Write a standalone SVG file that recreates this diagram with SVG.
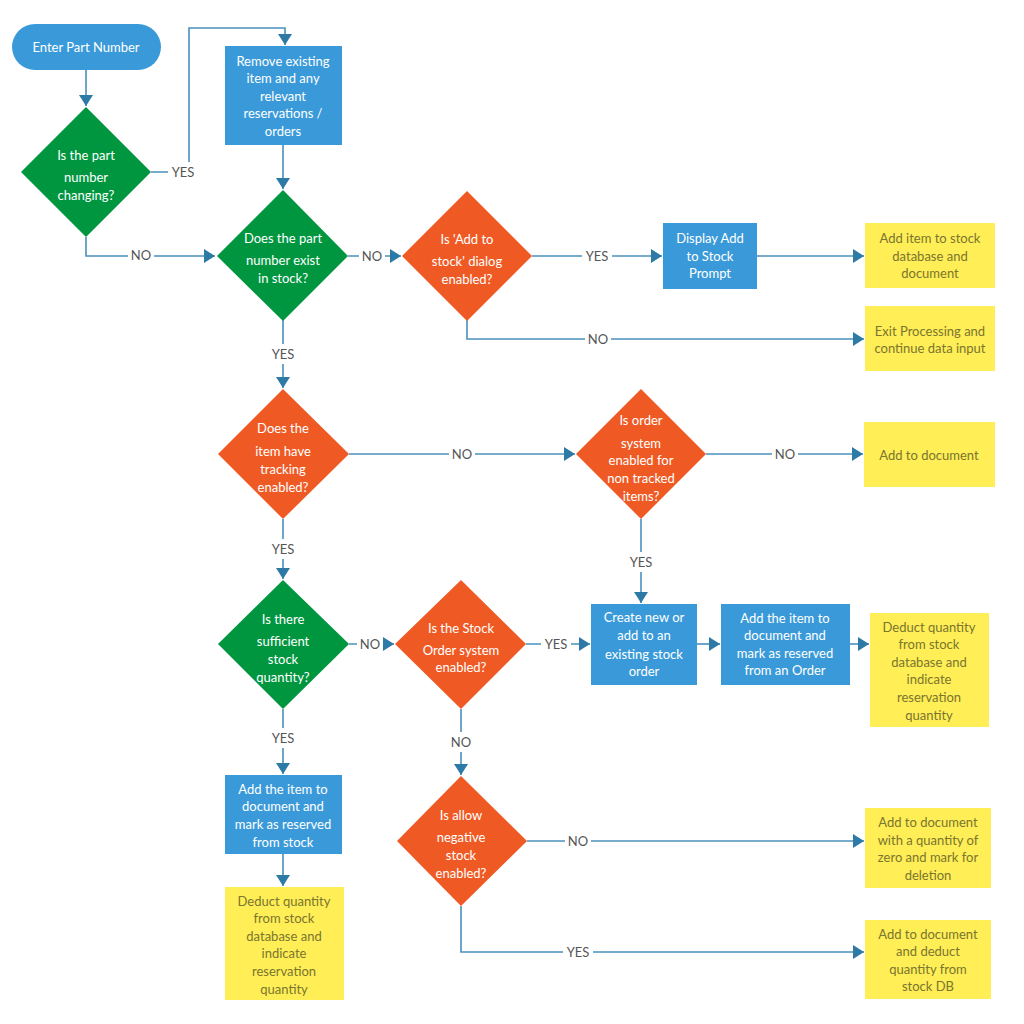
<svg xmlns="http://www.w3.org/2000/svg" width="1024" height="1024" viewBox="0 0 1024 1024">
<defs>
<style>
.blue{fill:#3A9AD9;}
.green{fill:#00963F;}
.orange{fill:#EF5A24;}
.yellow{fill:#FFEE55;}
.t{font-family:Lato,"Liberation Sans",sans-serif;font-size:13px;text-anchor:middle;}
.w{fill:#ffffff;}
.y{fill:#7A7530;}
.lbl{font-family:Lato,"Liberation Sans",sans-serif;font-size:13px;text-anchor:middle;fill:#555555;}
.c{fill:none;stroke:#4A90BE;stroke-width:1.6;}
.bg{fill:#ffffff;}
</style>
<marker id="ah" markerUnits="userSpaceOnUse" markerWidth="12" markerHeight="14" viewBox="0 0 12 14" refX="11" refY="7" orient="auto">
<path d="M0,0 L11,7 L0,14 Z" fill="#2E7AA6"/>
</marker>
</defs>
<rect width="1024" height="1024" fill="#ffffff"/>

<g id="connectors">
<path class="c" d="M86,70 V106" marker-end="url(#ah)"/>
<path class="c" d="M151,172 H189 V28 H285 V45" marker-end="url(#ah)"/>
<path class="c" d="M283,145 V189" marker-end="url(#ah)"/>
<path class="c" d="M86,237 V256 H215" marker-end="url(#ah)"/>
<path class="c" d="M348,256 H401" marker-end="url(#ah)"/>
<path class="c" d="M532,256 H662" marker-end="url(#ah)"/>
<path class="c" d="M757,256 H864" marker-end="url(#ah)"/>
<path class="c" d="M467,320 V339 H864" marker-end="url(#ah)"/>
<path class="c" d="M283,320 V388" marker-end="url(#ah)"/>
<path class="c" d="M349,454 H575" marker-end="url(#ah)"/>
<path class="c" d="M706,454 H863" marker-end="url(#ah)"/>
<path class="c" d="M641,519 V603" marker-end="url(#ah)"/>
<path class="c" d="M283,519 V579" marker-end="url(#ah)"/>
<path class="c" d="M349,644 H394" marker-end="url(#ah)"/>
<path class="c" d="M526,644 H590" marker-end="url(#ah)"/>
<path class="c" d="M697,644 H720" marker-end="url(#ah)"/>
<path class="c" d="M850,644 H869" marker-end="url(#ah)"/>
<path class="c" d="M283,709 V774" marker-end="url(#ah)"/>
<path class="c" d="M283,854 V886" marker-end="url(#ah)"/>
<path class="c" d="M461,709 V775" marker-end="url(#ah)"/>
<path class="c" d="M527,841 H864" marker-end="url(#ah)"/>
<path class="c" d="M461,906 V952 H864" marker-end="url(#ah)"/>

<rect class="bg" x="168" y="162" width="30" height="20"/><text class="lbl" x="183" y="177">YES</text>
<rect class="bg" x="128" y="246" width="26" height="20"/><text class="lbl" x="141" y="260">NO</text>
<rect class="bg" x="359" y="246" width="26" height="20"/><text class="lbl" x="372" y="261">NO</text>
<rect class="bg" x="582" y="246" width="30" height="20"/><text class="lbl" x="597" y="261">YES</text>
<rect class="bg" x="585" y="329" width="26" height="20"/><text class="lbl" x="598" y="344">NO</text>
<rect class="bg" x="268" y="344" width="30" height="20"/><text class="lbl" x="283" y="359">YES</text>
<rect class="bg" x="449" y="444" width="26" height="20"/><text class="lbl" x="462" y="459">NO</text>
<rect class="bg" x="772" y="444" width="26" height="20"/><text class="lbl" x="785" y="459">NO</text>
<rect class="bg" x="626" y="552" width="30" height="20"/><text class="lbl" x="641" y="567">YES</text>
<rect class="bg" x="268" y="539" width="30" height="20"/><text class="lbl" x="283" y="554">YES</text>
<rect class="bg" x="357" y="634" width="26" height="20"/><text class="lbl" x="370" y="649">NO</text>
<rect class="bg" x="541" y="634" width="30" height="20"/><text class="lbl" x="556" y="649">YES</text>
<rect class="bg" x="268" y="728" width="30" height="20"/><text class="lbl" x="283" y="743">YES</text>
<rect class="bg" x="448" y="732" width="26" height="20"/><text class="lbl" x="461" y="747">NO</text>
<rect class="bg" x="565" y="831" width="26" height="20"/><text class="lbl" x="578" y="846">NO</text>
<rect class="bg" x="563" y="942" width="30" height="20"/><text class="lbl" x="578" y="957">YES</text>
</g>

<g id="start">
<rect class="blue" x="12" y="24" width="149" height="46" rx="23"/>
<text class="t w" x="86" y="52">Enter Part Number</text>
</g>

<g id="q-part-changing">
<path class="green" d="M86,107 L151,172 L86,237 L21,172 Z"/>
<text class="t w" x="86" y="160">Is the part</text>
<text class="t w" x="86" y="182">number</text>
<text class="t w" x="86" y="200">changing?</text>
</g>

<g id="remove-existing">
<rect class="blue" x="225" y="46" width="117" height="99"/>
<text class="t w" x="283" y="66">Remove existing</text>
<text class="t w" x="283" y="83">item and any</text>
<text class="t w" x="283" y="101">relevant</text>
<text class="t w" x="283" y="118">reservations /</text>
<text class="t w" x="283" y="136">orders</text>
</g>

<g id="q-part-exists">
<path class="green" d="M283,190 L348,256 L283,321 L217,256 Z"/>
<text class="t w" x="283" y="243">Does the part</text>
<text class="t w" x="283" y="265">number exist</text>
<text class="t w" x="283" y="283">in stock?</text>
</g>

<g id="q-add-dialog">
<path class="orange" d="M467,191 L532,256 L467,321 L402,256 Z"/>
<text class="t w" x="467" y="244">Is 'Add to</text>
<text class="t w" x="467" y="266">stock' dialog</text>
<text class="t w" x="467" y="284">enabled?</text>
</g>

<g id="display-prompt">
<rect class="blue" x="663" y="223" width="94" height="66"/>
<text class="t w" x="710" y="243">Display Add</text>
<text class="t w" x="710" y="261">to Stock</text>
<text class="t w" x="710" y="278">Prompt</text>
</g>

<g id="add-item-stock">
<rect class="yellow" x="865" y="223" width="130" height="65"/>
<text class="t y" x="930" y="243">Add item to stock</text>
<text class="t y" x="930" y="261">database and</text>
<text class="t y" x="930" y="278">document</text>
</g>

<g id="exit-processing">
<rect class="yellow" x="865" y="306" width="130" height="65"/>
<text class="t y" x="930" y="336">Exit Processing and</text>
<text class="t y" x="930" y="353">continue data input</text>
</g>

<g id="q-tracking">
<path class="orange" d="M283,389 L349,454 L283,519 L218,454 Z"/>
<text class="t w" x="283" y="433">Does the</text>
<text class="t w" x="283" y="456">item have</text>
<text class="t w" x="283" y="474">tracking</text>
<text class="t w" x="283" y="492">enabled?</text>
</g>

<g id="q-order-nontracked">
<path class="orange" d="M641,389 L706,454 L641,519 L576,454 Z"/>
<text class="t w" x="641" y="425">Is order</text>
<text class="t w" x="641" y="448">system</text>
<text class="t w" x="641" y="465">enabled for</text>
<text class="t w" x="641" y="483">non tracked</text>
<text class="t w" x="641" y="501">items?</text>
</g>

<g id="add-to-document">
<rect class="yellow" x="864" y="422" width="131" height="65"/>
<text class="t y" x="929" y="460">Add to document</text>
</g>

<g id="q-sufficient">
<path class="green" d="M283,580 L349,644 L283,709 L218,644 Z"/>
<text class="t w" x="283" y="624">Is there</text>
<text class="t w" x="283" y="646">sufficient</text>
<text class="t w" x="283" y="664">stock</text>
<text class="t w" x="283" y="682">quantity?</text>
</g>

<g id="q-stock-order">
<path class="orange" d="M461,580 L526,644 L461,709 L395,644 Z"/>
<text class="t w" x="461" y="633">Is the Stock</text>
<text class="t w" x="461" y="655">Order system</text>
<text class="t w" x="461" y="672">enabled?</text>
</g>

<g id="create-order">
<rect class="blue" x="591" y="604" width="106" height="81"/>
<text class="t w" x="644" y="622">Create new or</text>
<text class="t w" x="644" y="640">add to an</text>
<text class="t w" x="644" y="659">existing stock</text>
<text class="t w" x="644" y="676">order</text>
</g>

<g id="reserve-order">
<rect class="blue" x="721" y="604" width="129" height="81"/>
<text class="t w" x="785" y="623">Add the item to</text>
<text class="t w" x="785" y="640">document and</text>
<text class="t w" x="785" y="658">mark as reserved</text>
<text class="t w" x="785" y="675">from an Order</text>
</g>

<g id="deduct-right">
<rect class="yellow" x="870" y="613" width="119" height="114"/>
<text class="t y" x="929" y="632">Deduct quantity</text>
<text class="t y" x="929" y="649">from stock</text>
<text class="t y" x="929" y="667">database  and</text>
<text class="t y" x="929" y="684">indicate</text>
<text class="t y" x="929" y="702">reservation</text>
<text class="t y" x="929" y="720">quantity</text>
</g>

<g id="reserve-stock">
<rect class="blue" x="225" y="775" width="117" height="79"/>
<text class="t w" x="283" y="794">Add the item to</text>
<text class="t w" x="283" y="811">document and</text>
<text class="t w" x="283" y="829">mark as reserved</text>
<text class="t w" x="283" y="847">from stock</text>
</g>

<g id="deduct-left">
<rect class="yellow" x="225" y="887" width="119" height="113"/>
<text class="t y" x="284" y="906">Deduct quantity</text>
<text class="t y" x="284" y="923">from stock</text>
<text class="t y" x="284" y="941">database  and</text>
<text class="t y" x="284" y="958">indicate</text>
<text class="t y" x="284" y="976">reservation</text>
<text class="t y" x="284" y="994">quantity</text>
</g>

<g id="q-negative">
<path class="orange" d="M461,776 L527,841 L461,906 L397,841 Z"/>
<text class="t w" x="461" y="820">Is allow</text>
<text class="t w" x="461" y="842">negative</text>
<text class="t w" x="461" y="860">stock</text>
<text class="t w" x="461" y="878">enabled?</text>
</g>

<g id="zero-delete">
<rect class="yellow" x="865" y="808" width="126" height="80"/>
<text class="t y" x="928" y="827">Add to document</text>
<text class="t y" x="928" y="845">with a quantity of</text>
<text class="t y" x="928" y="862">zero and mark for</text>
<text class="t y" x="928" y="880">deletion</text>
</g>

<g id="deduct-db">
<rect class="yellow" x="865" y="920" width="126" height="79"/>
<text class="t y" x="928" y="939">Add to document</text>
<text class="t y" x="928" y="956">and deduct</text>
<text class="t y" x="928" y="974">quantity from</text>
<text class="t y" x="928" y="991">stock DB</text>
</g>
</svg>
